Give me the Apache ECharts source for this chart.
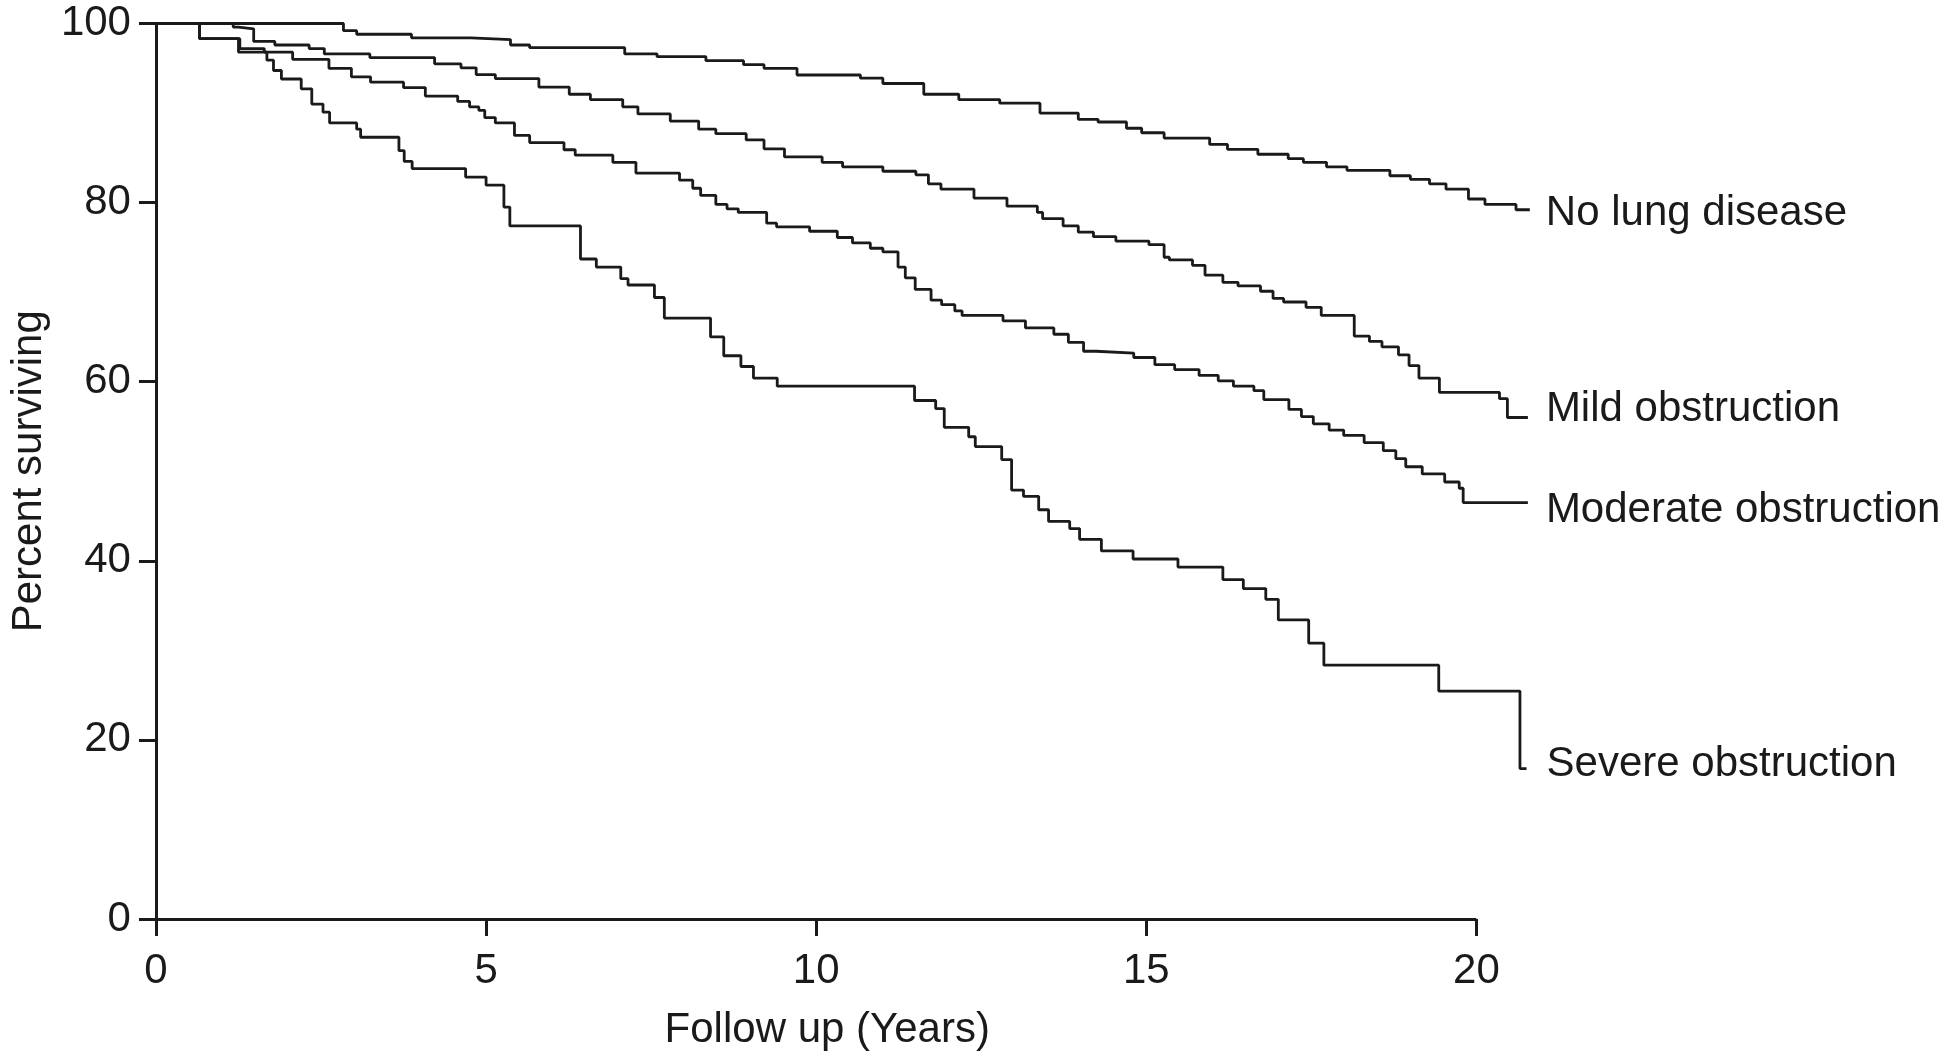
<!DOCTYPE html>
<html>
<head>
<meta charset="utf-8">
<style>
  html, body { margin: 0; padding: 0; background: #ffffff; }
  #chart { width: 1950px; height: 1060px; }
</style>
<script src="https://cdn.jsdelivr.net/npm/echarts@6/dist/echarts.min.js"></script>
</head>
<body>
<div id="chart"></div>
<script>
// ---- data (years, percent surviving) ----
const seriesNames = ["No lung disease", "Mild obstruction", "Moderate obstruction", "Severe obstruction"];
const xTicks = [0, 5, 10, 15, 20];
const yTicks = [0, 20, 40, 60, 80, 100];
const xDataMax = 20.85;   // follow-up runs a little past the last tick

const noLungDisease = [[0,100],[2.84,99.2],[3.04,98.8],[3.87,98.4],[4.77,98.2],[5.37,97.6],[5.66,97.3],[7.10,96.6],[7.59,96.3],[8.33,95.85],[8.90,95.4],[9.21,95.0],[9.71,94.25],[10.67,93.9],[11.01,93.3],[11.63,92.1],[12.16,91.5],[12.78,91.1],[13.39,90.0],[13.97,89.3],[14.27,89.0],[14.70,88.3],[14.93,87.8],[15.27,87.2],[15.96,86.5],[16.23,85.95],[16.69,85.4],[17.15,84.9],[17.38,84.5],[17.73,84.0],[18.04,83.6],[18.69,83.0],[19.00,82.6],[19.29,82.1],[19.54,81.5],[19.88,80.4],[20.13,79.8],[20.60,79.2],[20.81,79.2]];

const mildObstruction = [[0,100],[1.17,99.6],[1.25,99.4],[1.48,98.0],[1.80,97.6],[2.32,97.2],[2.55,96.6],[3.24,96.2],[4.22,95.5],[4.62,95.05],[4.85,94.3],[5.14,93.85],[5.80,92.9],[6.26,92.1],[6.58,91.5],[7.07,90.7],[7.30,89.9],[7.79,89.1],[8.22,88.2],[8.48,87.7],[8.94,87.0],[9.21,86.0],[9.52,85.1],[10.09,84.5],[10.40,84.0],[11.01,83.5],[11.51,83.1],[11.70,82.1],[11.89,81.5],[12.39,80.5],[12.89,79.6],[13.35,78.9],[13.43,78.2],[13.74,77.4],[13.97,76.7],[14.20,76.2],[14.54,75.7],[15.04,75.3],[15.27,73.9],[15.35,73.6],[15.70,73.0],[15.89,71.9],[16.16,71.1],[16.39,70.7],[16.73,70.1],[16.92,69.3],[17.08,68.9],[17.42,68.3],[17.65,67.4],[18.15,65.1],[18.38,64.5],[18.57,63.9],[18.82,63.0],[18.98,61.8],[19.13,60.4],[19.44,58.8],[20.35,58.1],[20.47,56.0],[20.78,56.0]];

const moderateObstruction = [[0,100],[0.66,98.3],[1.27,97.2],[1.64,96.8],[2.07,96.0],[2.62,95.0],[2.96,94.05],[3.25,93.45],[3.75,92.85],[4.08,91.9],[4.57,91.3],[4.75,90.7],[4.89,90.3],[4.98,89.5],[5.14,88.9],[5.43,87.5],[5.66,86.7],[6.18,85.9],[6.35,85.3],[6.92,84.5],[7.27,83.3],[7.93,82.5],[8.13,81.6],[8.25,80.8],[8.48,79.8],[8.65,79.3],[8.82,78.9],[9.25,77.7],[9.40,77.3],[9.90,76.8],[10.32,76.1],[10.55,75.5],[10.82,74.9],[11.01,74.5],[11.24,72.8],[11.35,71.6],[11.50,70.3],[11.74,69.1],[11.90,68.6],[12.10,67.9],[12.21,67.4],[12.83,66.8],[13.17,66.0],[13.60,65.3],[13.82,64.4],[14.05,63.4],[14.24,63.2],[14.81,62.7],[15.13,61.9],[15.43,61.35],[15.80,60.7],[16.09,60.1],[16.32,59.5],[16.63,59.0],[16.78,58.0],[17.16,56.9],[17.35,56.1],[17.53,55.3],[17.77,54.6],[17.99,54.0],[18.30,53.2],[18.59,52.3],[18.78,51.4],[18.93,50.5],[19.18,49.7],[19.52,48.8],[19.74,48.1],[19.80,46.5],[20.78,46.5]];

const severeObstruction = [[0,100],[0.66,98.3],[1.25,96.8],[1.68,95.9],[1.78,94.75],[1.90,93.8],[2.20,92.7],[2.36,91.0],[2.53,90.1],[2.63,88.9],[3.04,88.2],[3.10,87.3],[3.68,85.8],[3.76,84.6],[3.88,83.8],[4.69,82.85],[5.00,81.95],[5.27,79.5],[5.36,77.4],[6.43,73.7],[6.67,72.8],[7.04,71.5],[7.15,70.8],[7.55,69.4],[7.70,67.1],[8.40,65.0],[8.60,62.9],[8.86,61.7],[9.05,60.4],[9.41,59.5],[11.49,57.9],[11.81,57.0],[11.94,54.9],[12.31,53.85],[12.41,52.75],[12.81,51.3],[12.96,47.9],[13.14,47.2],[13.37,45.7],[13.52,44.4],[13.84,43.6],[13.99,42.4],[14.32,41.1],[14.80,40.2],[15.48,39.3],[16.16,37.9],[16.47,36.9],[16.81,35.7],[17.00,33.4],[17.46,30.8],[17.69,28.35],[19.43,25.45],[20.66,16.8],[20.76,16.8]];

const seriesData = [noLungDisease, mildObstruction, moderateObstruction, severeObstruction];
const labelOffsets = [[0, 4], [2, -8], [2, 8], [4, -4]];

// ---- styling ----
const INK = '#1a1a1a';
const FONT = '"Liberation Sans", Arial, Helvetica, sans-serif';

const chart = echarts.init(document.getElementById('chart'), null, { renderer: 'canvas' });

const series = seriesNames.map((name, i) => ({
  name: name,
  type: 'line',
  step: 'end',
  data: seriesData[i],
  showSymbol: false,
  symbol: 'none',
  clip: false,
  silent: true,
  z: 3,
  lineStyle: { color: INK, width: 2.8 },
  endLabel: {
    show: true,
    formatter: name,
    color: INK,
    fontSize: 42,
    fontFamily: FONT,
    distance: 16,
    offset: labelOffsets[i],
    align: 'left',
    verticalAlign: 'middle'
  }
}));

// x axis baseline only spans the tick range 0..20
series[0].markLine = {
  silent: true,
  symbol: ['none', 'none'],
  label: { show: false },
  lineStyle: { color: INK, width: 3, type: 'solid' },
  emphasis: { disabled: true },
  data: [[{ coord: [xTicks[0], yTicks[0]] }, { coord: [xTicks[xTicks.length - 1], yTicks[0]] }]]
};

const option = {
  backgroundColor: '#ffffff',
  animation: false,
  grid: { left: 146.7, top: 23.5, right: 417.5, bottom: 141, containLabel: false },
  xAxis: {
    type: 'value',
    min: 0,
    max: xDataMax,
    interval: 5,
    name: 'Follow up (Years)',
    nameLocation: 'middle',
    nameGap: 90,
    nameTextStyle: { color: INK, fontSize: 42, fontFamily: FONT, padding: [0, 34, 0, 0] },
    axisLine: { show: false },
    axisTick: { show: true, inside: false, length: 17, customValues: xTicks, lineStyle: { color: INK, width: 3 } },
    axisLabel: { color: INK, fontSize: 42, fontFamily: FONT, margin: 31, customValues: xTicks },
    splitLine: { show: false }
  },
  yAxis: {
    type: 'value',
    min: yTicks[0],
    max: yTicks[yTicks.length - 1],
    interval: 20,
    name: 'Percent surviving',
    nameLocation: 'middle',
    nameGap: 100,
    nameTextStyle: { color: INK, fontSize: 42, fontFamily: FONT },
    axisLine: { show: true, onZero: false, lineStyle: { color: INK, width: 3 } },
    axisTick: { show: true, inside: false, length: 17, lineStyle: { color: INK, width: 3 } },
    axisLabel: { color: INK, fontSize: 42, fontFamily: FONT, margin: 25 },
    splitLine: { show: false }
  },
  series: series
};

chart.setOption(option);
</script>
</body>
</html>
